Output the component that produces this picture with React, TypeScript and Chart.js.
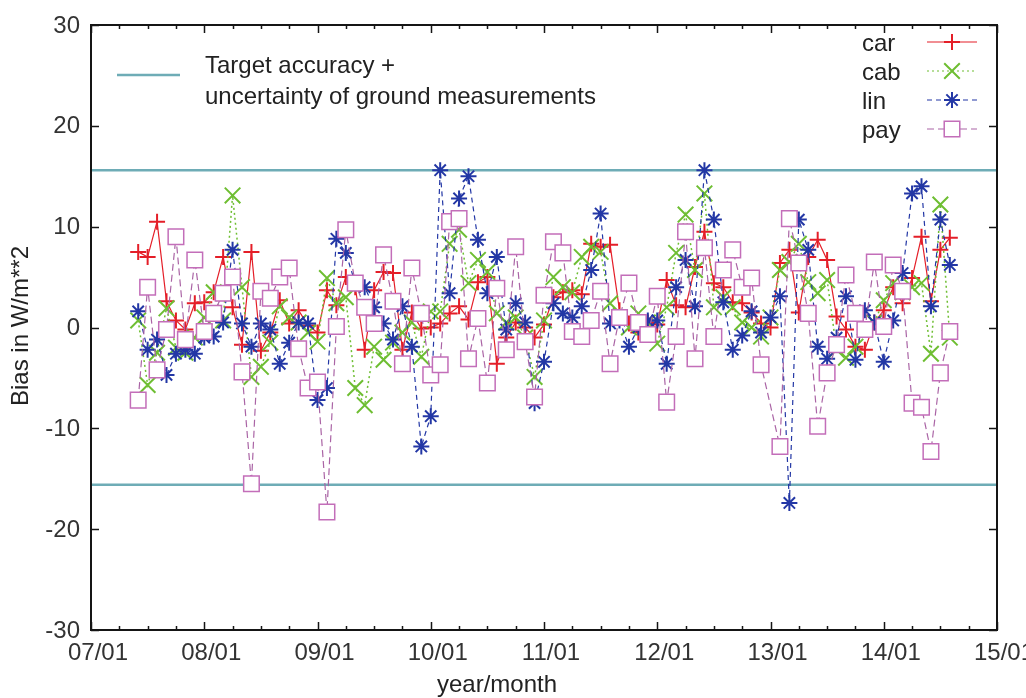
import React, { useEffect, useRef } from "react";
import { Chart, registerables } from "chart.js";

Chart.register(...registerables);

// Monthly series, first month = June 2007, last = August 2014
const firstYear = 2007;
const firstMonthIndex = 5; // months after Jan 2007 (June)

const car = [
  7.5, 7.0, 10.5, 2.6, 0.7, -0.2, 2.4, 2.5, 3.5, 7.0,
  2.0, -1.7, 7.5, -2.3, -0.5, 2.7, 0.4, 1.7, 0.2, -0.5,
  3.7, 2.2, 5.0, 4.0, -2.2, 3.7, 5.5, 5.4, -2.2, 1.5,
  -0.1, 0.0, 0.4, 1.4, 2.1, 0.8, 4.5, 5.0, -3.6, -1.0,
  0.5, 0.0, -1.0, 0.3, 3.0, 3.5, 3.7, 3.3, 8.3, 8.0,
  8.2, 1.7, 0.4, -0.5, 0.5, 0.3, 4.7, 2.2, 2.0, 6.0,
  9.5, 4.4, 4.0, 2.5, 2.4, 1.5, 0.4, 0.0, 6.4, 7.7,
  1.5, 7.0, 8.7, 6.7, 1.1, -0.2, -1.9, -2.2, 0.5, 1.7,
  4.0, 2.4, 4.9, 9.0, 2.6, 7.7, 8.9,
];

const cab = [
  0.7, -5.7, -2.5, 1.9, -2.0, -2.5, -1.0, 1.0, 3.5, 0.7,
  13.1, 4.0, -4.9, -3.9, -1.5, 2.1, 1.0, 0.5, -0.5, -1.4,
  4.9, 2.4, 3.0, -6.0, -7.7, -1.9, -3.2, -1.5, -0.5, 0.5,
  -2.9, 1.6, 1.6, 8.3, 9.7, 4.4, 6.7, 5.5, 1.4, 0.5,
  1.0, -1.0, -4.9, 0.7, 5.0, 4.0, 3.5, 7.0, 8.0, 7.5,
  2.4, 1.0, 0.0, 1.4, 0.5, -1.6, 2.0, 7.4, 11.2, 5.7,
  13.3, 2.0, 3.0, 2.0, 0.5, 0.0, -0.9, 1.0, 5.7, 6.5,
  8.3, 4.5, 3.4, 4.7, -2.2, -3.0, -1.9, 0.0, 0.5, 2.7,
  4.4, 3.5, 4.0, 4.4, -2.6, 12.2, -1.0,
];

const lin = [
  1.6, -2.2, -1.2, -4.7, -2.6, -2.2, -2.6, -1.0, -0.9, 0.5,
  7.7, 0.4, -1.9, 0.4, -0.2, -3.6, -1.5, 0.5, 0.4, -7.2,
  -6.0, 8.8, 7.4, 4.4, 4.0, 2.0, 0.4, -1.2, 2.1, -1.9,
  -11.8, -8.8, 15.6, 3.4, 12.8, 15.0, 8.7, 3.4, 7.0, -0.2,
  2.4, 0.5, -7.5, -3.4, 2.4, 1.4, 1.0, 2.1, 5.7, 11.3,
  0.4, 0.7, -1.9, 0.0, 0.7, 0.7, -3.6, 4.0, 6.7, 2.1,
  15.6, 10.7, 2.5, -2.2, -0.8, 1.6, -0.5, 1.0, 3.1, -17.4,
  10.7, 7.7, -1.9, -3.1, -1.0, 3.1, -3.2, 1.7, 0.5, -3.4,
  0.7, 5.4, 13.3, 14.0, 2.1, 10.7, 6.2,
];

const pay = [
  -7.2, 4.0, -4.2, -0.2, 9.0, -1.2, 6.7, -0.4, 1.4, 3.4,
  5.0, -4.4, -15.5, 3.6, 2.9, 5.0, 5.9, -2.1, -6.0, -5.4,
  -18.3, 0.1, 9.7, 4.4, 2.0, 0.4, 7.2, 2.6, -3.6, 5.9,
  1.4, -4.7, -3.7, 10.5, 10.8, -3.1, 0.9, -5.5, 3.9, -2.2,
  8.0, -1.4, -6.9, 3.2, 8.5, 7.4, -0.4, -0.9, 0.7, 3.6,
  -3.6, 1.0, 4.4, 0.5, -0.7, 3.1, -7.4, -0.9, 9.5, -3.1,
  7.9, -0.9, 5.7, 7.7, 4.0, 4.9, -3.7, null, -11.8, 10.8,
  6.4, 1.4, -9.8, -4.5, -1.7, 5.2, 1.4, -0.2, 6.5, 0.1,
  6.2, 3.6, -7.5, -7.9, -12.3, -4.5, -0.4,
];

const targetBand = 15.6;
const xTickYears = [2007, 2008, 2009, 2010, 2011, 2012, 2013, 2014, 2015];
const xTickLabels = ["07/01", "08/01", "09/01", "10/01", "11/01", "12/01", "13/01", "14/01", "15/01"];
const yTickValues = [30, 20, 10, 0, -10, -20, -30];
const seriesNames = ["car", "cab", "lin", "pay"];

const FONT = '"Liberation Sans", Arial, Helvetica, sans-serif';
const C_CAR = "rgb(228,30,40)";
const C_CAB = "rgb(110,190,50)";
const C_LIN = "rgb(35,55,165)";
const C_PAY = "rgb(195,110,185)";
const C_PAY_LINE = "rgb(170,100,165)";
const C_TEAL = "rgb(110,172,182)";

const toPoints = (arr: (number | null)[]) =>
  arr.map((v, i) => ({ x: firstYear + (firstMonthIndex + i) / 12, y: v }));

const decorPlugin = {
  id: "decor",
  afterDatasetsDraw(chart: any) {
    const { ctx, chartArea: a, scales } = chart;
    const x = scales.x;
    const y = scales.y;
    ctx.save();
    // frame
    ctx.strokeStyle = "#151515";
    ctx.lineWidth = 2;
    ctx.strokeRect(a.left, a.top, a.right - a.left, a.bottom - a.top);
    // x ticks (major yearly, minor quarterly), inward, mirrored on top
    ctx.lineWidth = 1.5;
    for (let m = 0; m <= 96; m += 3) {
      const px = Math.round(x.getPixelForValue(firstYear + m / 12)) + 0.5;
      const len = m % 12 === 0 ? 8 : 4;
      ctx.beginPath();
      ctx.moveTo(px, a.bottom);
      ctx.lineTo(px, a.bottom - len);
      ctx.moveTo(px, a.top);
      ctx.lineTo(px, a.top + len);
      ctx.stroke();
    }
    yTickValues.forEach((v) => {
      const py = Math.round(y.getPixelForValue(v)) + 0.5;
      ctx.beginPath();
      ctx.moveTo(a.left, py);
      ctx.lineTo(a.left + 8, py);
      ctx.moveTo(a.right, py);
      ctx.lineTo(a.right - 8, py);
      ctx.stroke();
    });
    // tick labels
    ctx.fillStyle = "#333";
    ctx.font = `24px ${FONT}`;
    ctx.textAlign = "center";
    ctx.textBaseline = "alphabetic";
    xTickYears.forEach((yr, i) => {
      ctx.fillText(xTickLabels[i], x.getPixelForValue(yr) + 7, 660);
    });
    ctx.textAlign = "right";
    ctx.textBaseline = "middle";
    yTickValues.forEach((v) => {
      ctx.fillText(String(v), 80, y.getPixelForValue(v) + 1);
    });
    // axis titles
    ctx.fillStyle = "#222";
    ctx.textAlign = "center";
    ctx.textBaseline = "alphabetic";
    ctx.fillText("year/month", 497, 692);
    ctx.save();
    ctx.translate(28, 326);
    ctx.rotate(-Math.PI / 2);
    ctx.fillText("Bias in W/m**2", 0, 0);
    ctx.restore();

    // target legend (top left)
    ctx.strokeStyle = C_TEAL;
    ctx.lineWidth = 2.5;
    ctx.beginPath();
    ctx.moveTo(117, 75);
    ctx.lineTo(180, 75);
    ctx.stroke();
    ctx.fillStyle = "#222";
    ctx.textAlign = "left";
    ctx.fillText("Target accuracy +", 205, 73);
    ctx.fillText("uncertainty of ground measurements", 205, 104);

    // series legend (top right)
    const rows = [42, 71, 100, 129];
    const styles = [
      { c: C_CAR, lc: C_CAR, dash: [] as number[], ps: "cross", r: 8, fill: "transparent" },
      { c: C_CAB, lc: C_CAB, dash: [2, 3], ps: "crossRot", r: 11, fill: "transparent" },
      { c: C_LIN, lc: C_LIN, dash: [5, 4], ps: "star", r: 8, fill: "transparent" },
      { c: C_PAY, lc: C_PAY_LINE, dash: [7, 4], ps: "rect", r: 11, fill: "#fff" },
    ];
    seriesNames.forEach((name, i) => {
      const ry = rows[i];
      const s = styles[i];
      ctx.fillStyle = "#222";
      ctx.textAlign = "left";
      ctx.textBaseline = "middle";
      ctx.fillText(name, 862, ry + 2);
      ctx.strokeStyle = s.lc;
      ctx.lineWidth = 1.2;
      ctx.setLineDash(s.dash);
      ctx.beginPath();
      ctx.moveTo(927, ry);
      ctx.lineTo(977, ry);
      ctx.stroke();
      ctx.setLineDash([]);
      ctx.strokeStyle = s.c;
      ctx.fillStyle = s.fill;
      ctx.lineWidth = i === 3 ? 1.5 : 2;
      (Chart as any).helpers
        ? null
        : null;
      drawMarker(ctx, s.ps, 952, ry, s.r);
    });
    ctx.restore();
  },
};

function drawMarker(ctx: CanvasRenderingContext2D, style: string, x: number, y: number, r: number) {
  const d = r * Math.SQRT1_2;
  ctx.beginPath();
  if (style === "cross" || style === "star") {
    ctx.moveTo(x - r, y);
    ctx.lineTo(x + r, y);
    ctx.moveTo(x, y - r);
    ctx.lineTo(x, y + r);
  }
  if (style === "crossRot" || style === "star") {
    ctx.moveTo(x - d, y - d);
    ctx.lineTo(x + d, y + d);
    ctx.moveTo(x - d, y + d);
    ctx.lineTo(x + d, y - d);
  }
  if (style === "rect") {
    ctx.rect(x - d, y - d, 2 * d, 2 * d);
    ctx.fill();
  }
  ctx.stroke();
}

export default function App() {
  const ref = useRef<HTMLCanvasElement>(null);
  useEffect(() => {
    document.body.style.margin = "0";
    const lineX0 = xTickYears[0];
    const lineX1 = xTickYears[xTickYears.length - 1];
    const chart = new Chart(ref.current as HTMLCanvasElement, {
      type: "line",
      data: {
        datasets: [
          {
            label: "pay",
            data: toPoints(pay),
            borderColor: C_PAY_LINE,
            borderWidth: 1.2,
            borderDash: [7, 4],
            pointStyle: "rect",
            pointRadius: 11,
            pointBorderColor: C_PAY,
            pointBackgroundColor: "#fff",
            pointBorderWidth: 1.5,
            spanGaps: true,
            order: 0,
          },
          {
            label: "lin",
            data: toPoints(lin),
            borderColor: C_LIN,
            borderWidth: 1.2,
            borderDash: [5, 4],
            pointStyle: "star",
            pointRadius: 8,
            pointBorderColor: C_LIN,
            pointBorderWidth: 2,
            spanGaps: true,
            order: 1,
          },
          {
            label: "cab",
            data: toPoints(cab),
            borderColor: C_CAB,
            borderWidth: 1.5,
            borderDash: [2, 3],
            pointStyle: "crossRot",
            pointRadius: 11,
            pointBorderColor: C_CAB,
            pointBorderWidth: 2,
            spanGaps: true,
            order: 2,
          },
          {
            label: "car",
            data: toPoints(car),
            borderColor: C_CAR,
            borderWidth: 1.2,
            pointStyle: "cross",
            pointRadius: 8,
            pointBorderColor: C_CAR,
            pointBorderWidth: 2,
            spanGaps: true,
            order: 3,
          },
          {
            label: "target+",
            data: [
              { x: lineX0, y: targetBand },
              { x: lineX1, y: targetBand },
            ],
            borderColor: C_TEAL,
            borderWidth: 2.5,
            pointRadius: 0,
            order: 4,
          },
          {
            label: "target-",
            data: [
              { x: lineX0, y: -targetBand },
              { x: lineX1, y: -targetBand },
            ],
            borderColor: C_TEAL,
            borderWidth: 2.5,
            pointRadius: 0,
            order: 4,
          },
        ] as any,
      },
      options: {
        responsive: false,
        animation: false,
        devicePixelRatio: 1,
        events: [],
        layout: { padding: { left: 0, right: 29, top: 25, bottom: 0 } },
        plugins: { legend: { display: false }, tooltip: { enabled: false } },
        scales: {
          x: {
            type: "linear",
            min: xTickYears[0],
            max: xTickYears[xTickYears.length - 1],
            grid: { display: false },
            border: { display: false },
            ticks: { display: false },
            afterFit: (s: any) => {
              s.height = 68;
            },
          },
          y: {
            min: -30,
            max: 30,
            grid: { display: false },
            border: { display: false },
            ticks: { display: false },
            afterFit: (s: any) => {
              s.width = 91;
            },
          },
        },
      },
      plugins: [decorPlugin],
    } as any);
    return () => chart.destroy();
  }, []);
  return (
    <div style={{ position: "absolute", left: 0, top: 0, width: 1026, height: 698, background: "#fff" }}>
      <canvas ref={ref} width={1026} height={698} />
    </div>
  );
}
